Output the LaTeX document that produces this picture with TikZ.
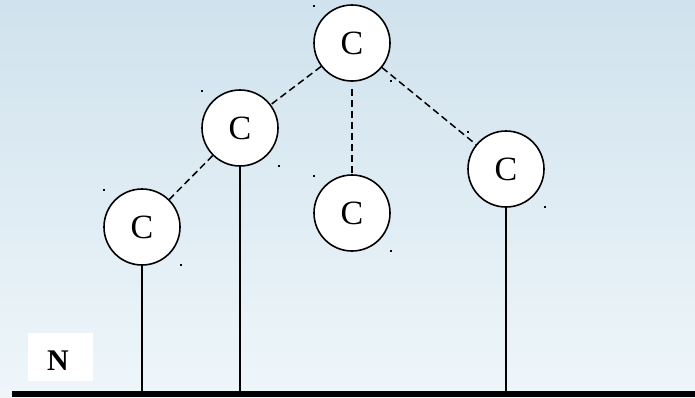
\documentclass[tikz,border=0pt]{standalone}
\usepackage{fontspec}
\setmainfont{Liberation Serif}
\usepackage{tikz}
\definecolor{skytop}{RGB}{208,226,237}
\definecolor{skybottom}{RGB}{238,246,250}
\tikzset{
	cnode/.style={circle,draw,line width=1.6pt,fill=white,minimum size=76pt,inner sep=0pt,font=\fontsize{34}{34}\selectfont},
	link/.style={line width=1.5pt,dash pattern=on 7pt off 4pt},
	pole/.style={line width=1.7pt},
	handle/.style={fill=black,inner sep=0pt,minimum size=2.2pt}
}
\begin{document}
\begin{tikzpicture}[x=1pt,y=-1pt]
	\useasboundingbox (0,0) rectangle (695,397);
	\shade[top color=skytop,bottom color=skybottom] (0,0) rectangle (695,397);
	\node[cnode] (croot) at (352,43) {C};
	\node[cnode] (cleft) at (240,128) {C};
	\node[cnode] (cmid) at (352,213) {C};
	\node[cnode] (cright) at (506,169) {C};
	\node[cnode] (cleaf) at (142,227) {C};
	\node[fill=black,inner sep=0pt,minimum width=683pt,minimum height=6pt] (ground) at (353.5,394) {};
	\node[fill=white,inner sep=0pt,minimum width=65pt,minimum height=48pt] (nbox) at (60.5,357) {};
	\node[font=\fontsize{30}{30}\selectfont\bfseries,inner sep=0pt] (nlabel) at (58,361) {N};
	\draw[link] (croot) -- (cleft);
	\draw[link,shorten <=7pt] (croot) -- (cmid);
	\draw[link] (croot) -- (cright);
	\draw[link] (cleft) -- (cleaf);
	\draw[pole] (cleaf) -- (cleaf |- ground.north);
	\draw[pole] (cleft) -- (cleft |- ground.north);
	\draw[pole] (cright) -- (cright |- ground.north);
	\foreach \c in {croot,cleft,cmid,cright,cleaf}{
		\node[handle] at ([shift={(1pt,-2pt)}]\c.west |- \c.north) {};
		\node[handle] at ([shift={(0pt,1pt)}]\c.east |- \c.south) {};
	}
\end{tikzpicture}
\end{document}
